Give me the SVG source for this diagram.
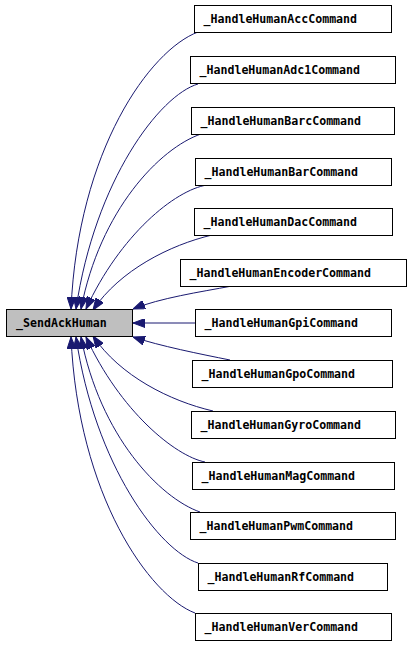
<svg xmlns="http://www.w3.org/2000/svg" width="411" height="645" viewBox="0 0 411 645">
<defs>
<style>
.node rect{fill:#ffffff;stroke:#000000;stroke-width:1}
.node.main rect{fill:#bfbfbf}
.node text{font-family:"DejaVu Sans Mono","Liberation Mono",monospace;font-weight:bold;font-size:11.6px;fill:#000000}
.edges path{fill:none;stroke:#191970;stroke-width:1;marker-end:url(#ah)}
</style>
<marker id="ah" viewBox="0 0 12 9" refX="12" refY="4.5" markerWidth="12" markerHeight="9" orient="auto" markerUnits="userSpaceOnUse">
<path d="M0,0 L12,4.5 L0,9 z" fill="#191970" stroke="#191970" stroke-width="1"/>
</marker>
</defs>
<rect x="0" y="0" width="411" height="645" fill="#ffffff"/>
<g class="edges" id="edges">
<path d="M198,32 C150,50 78,150 71,309"/>
<path d="M198,84 C160,95 95,180 76,309"/>
<path d="M201,134 C160,148 100,210 81,309"/>
<path d="M207,185 C175,190 120,235 86,309"/>
<path d="M212,235 C170,245 120,270 93,310"/>
<path d="M232,286 C200,292 160,298 133,309"/>
<path d="M195,323 L133,323"/>
<path d="M230,360 C200,354 160,346 133,337"/>
<path d="M213,411 C170,401 120,376 93,336"/>
<path d="M205,462 C175,456 120,411 86,337"/>
<path d="M200,512 C160,498 100,436 81,337"/>
<path d="M198,563 C160,551 95,466 76,337"/>
<path d="M195,613 C150,596 78,496 71,337"/>
</g>
<g class="node main" id="node_SendAckHuman"><rect x="6.5" y="309.5" width="126" height="27"/><text x="16" y="326.5">_SendAckHuman</text></g>
<g class="node" id="node_Acc"><rect x="194.5" y="5.5" width="197" height="27"/><text x="203.5" y="22.5">_HandleHumanAccCommand</text></g>
<g class="node" id="node_Adc1"><rect x="190.5" y="56.5" width="205" height="27"/><text x="199.5" y="73.5">_HandleHumanAdc1Command</text></g>
<g class="node" id="node_Barc"><rect x="191.5" y="107.5" width="203" height="27"/><text x="200.5" y="124.5">_HandleHumanBarcCommand</text></g>
<g class="node" id="node_Bar"><rect x="195.5" y="158.5" width="196" height="27"/><text x="204.5" y="175.5">_HandleHumanBarCommand</text></g>
<g class="node" id="node_Dac"><rect x="194.5" y="208.5" width="198" height="27"/><text x="203.5" y="225.5">_HandleHumanDacCommand</text></g>
<g class="node" id="node_Encoder"><rect x="180.5" y="259.5" width="226" height="27"/><text x="189.5" y="276.5">_HandleHumanEncoderCommand</text></g>
<g class="node" id="node_Gpi"><rect x="195.5" y="309.5" width="196" height="27"/><text x="204.5" y="326.5">_HandleHumanGpiCommand</text></g>
<g class="node" id="node_Gpo"><rect x="192.5" y="360.5" width="200" height="27"/><text x="201.5" y="377.5">_HandleHumanGpoCommand</text></g>
<g class="node" id="node_Gyro"><rect x="191.5" y="411.5" width="204" height="27"/><text x="200.5" y="428.5">_HandleHumanGyroCommand</text></g>
<g class="node" id="node_Mag"><rect x="192.5" y="462.5" width="202" height="27"/><text x="201.5" y="479.5">_HandleHumanMagCommand</text></g>
<g class="node" id="node_Pwm"><rect x="190.5" y="512.5" width="205" height="27"/><text x="199.5" y="529.5">_HandleHumanPwmCommand</text></g>
<g class="node" id="node_Rf"><rect x="198.5" y="563.5" width="189" height="27"/><text x="207.5" y="580.5">_HandleHumanRfCommand</text></g>
<g class="node" id="node_Ver"><rect x="195.5" y="613.5" width="196" height="27"/><text x="204.5" y="630.5">_HandleHumanVerCommand</text></g>
</svg>
